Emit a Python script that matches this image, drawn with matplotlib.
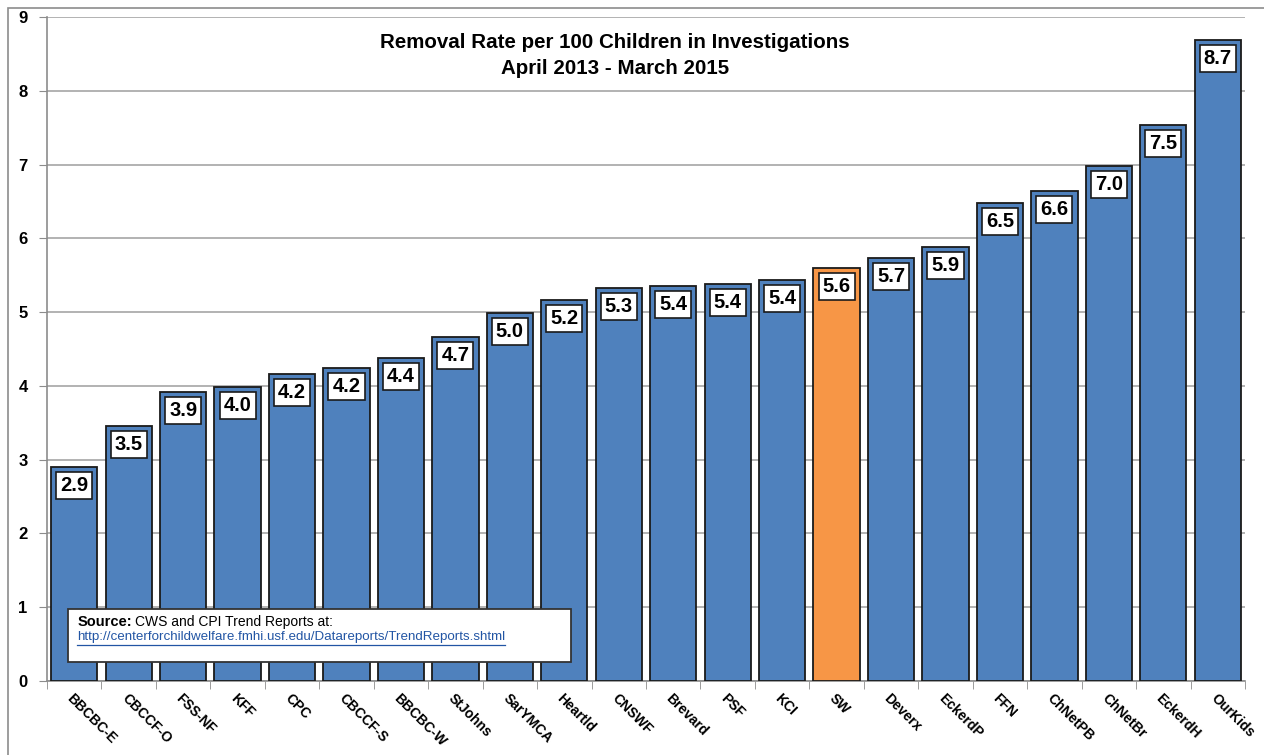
import matplotlib
matplotlib.use("Agg")
import matplotlib.pyplot as plt
from matplotlib.patches import Rectangle
from matplotlib.lines import Line2D

plt.rcParams["font.family"] = ["Liberation Sans", "DejaVu Sans"]

agencies = ["BBCBC-E", "CBCCF-O", "FSS-NF", "KFF", "CPC", "CBCCF-S", "BBCBC-W",
            "StJohns", "SarYMCA", "Heartld", "CNSWF", "Brevard", "PSF", "KCI",
            "SW", "Deverx", "EckerdP", "FFN", "ChNetPB", "ChNetBr", "EckerdH",
            "OurKids"]
rates = [2.90, 3.46, 3.92, 3.98, 4.16, 4.24, 4.38, 4.66, 4.99, 5.16, 5.33,
         5.36, 5.38, 5.43, 5.60, 5.74, 5.88, 6.48, 6.64, 6.98, 7.54, 8.69]
highlight = "SW"

W, H = 1264, 755
BLUE = "#4F81BD"
ORANGE = "#F79646"


def fx(px):
    return px / W


def fy(py):
    return 1 - py / H


fig = plt.figure(figsize=(W / 100, H / 100), dpi=100)

# outer chart border (only top/left visible in the crop)
fig.patches.append(Rectangle((fx(8), fy(800)), fx(1300), fy(8) - fy(800),
                             transform=fig.transFigure, fill=False,
                             ec="#8c8c8c", lw=1.2, zorder=0))

ax = fig.add_axes([fx(47), fy(681), fx(1245) - fx(47), fy(17) - fy(681)])

colors = [ORANGE if a == highlight else BLUE for a in agencies]
x = list(range(len(agencies)))
bars = ax.bar(x, rates, width=0.85, color=colors, edgecolor="#1a1a1a",
              linewidth=1.3, zorder=3)

for b, v in zip(bars, rates):
    ax.annotate(f"{v:.1f}", (b.get_x() + b.get_width() / 2, v),
                xytext=(0, -6.5), textcoords="offset points",
                ha="center", va="top", fontsize=14.5, fontweight="bold",
                bbox=dict(boxstyle="square,pad=0.2", fc="white",
                          ec="#1a1a1a", lw=1.2), zorder=5)

ax.set_xlim(-0.5, len(agencies) - 0.5)
ax.set_ylim(0, 9)
ax.set_yticks(range(0, 10))
ax.yaxis.grid(True, color="#a6a6a6", lw=1.2, zorder=0)
ax.set_axisbelow(True)

ax.set_xticks(x)
ax.set_xticklabels(agencies, rotation=-45, ha="left", rotation_mode="anchor",
                   fontsize=10, fontweight="bold")
ax.tick_params(axis="x", which="major", length=0, pad=7)
ax.set_xticks([i - 0.5 for i in range(len(agencies) + 1)], minor=True)
ax.tick_params(axis="x", which="minor", length=6, color="#8c8c8c")
ax.tick_params(axis="y", length=6, color="#8c8c8c", labelsize=12, pad=8)
for lab in ax.get_yticklabels():
    lab.set_fontweight("bold")

for side in ["top", "right"]:
    ax.spines[side].set_visible(False)
for side in ["left", "bottom"]:
    ax.spines[side].set_color("#8c8c8c")
    ax.spines[side].set_linewidth(1.2)

fig.text(fx(615), fy(43), "Removal Rate per 100 Children in Investigations",
         ha="center", va="center", fontsize=14.8, fontweight="bold")
fig.text(fx(615), fy(68), "April 2013 - March 2015",
         ha="center", va="center", fontsize=14.8, fontweight="bold")

# source box
fig.patches.append(Rectangle((fx(68), fy(662)), fx(571) - fx(68),
                             fy(609) - fy(662), transform=fig.transFigure,
                             fc="white", ec="#333333", lw=1.3, zorder=6))
fig.text(fx(78), fy(622), "Source:", ha="left", va="center", fontsize=10.5,
         fontweight="bold", zorder=7)
fig.text(fx(135), fy(622), "CWS and CPI Trend Reports at:", ha="left",
         va="center", fontsize=10, zorder=7)
url = fig.text(fx(77), fy(637),
               "http://centerforchildwelfare.fmhi.usf.edu/Datareports/TrendReports.shtml",
               ha="left", va="center", fontsize=9.6, color="#2255a4", zorder=7)
fig.canvas.draw()
bb = url.get_window_extent()
fig.lines.append(Line2D([bb.x0 / W, bb.x1 / W], [fy(645), fy(645)],
                        transform=fig.transFigure, color="#2255a4", lw=0.9,
                        zorder=7))

fig.savefig("out.png", dpi=100)
